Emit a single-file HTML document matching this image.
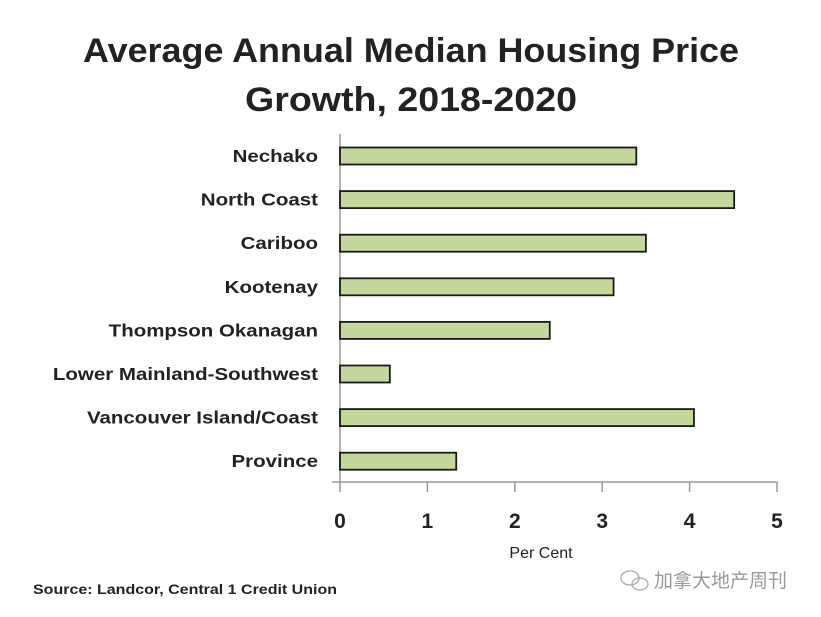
<!DOCTYPE html>
<html><head><meta charset="utf-8"><style>
body{margin:0;background:#fff;width:821px;height:617px;overflow:hidden;font-family:"Liberation Sans","Noto Sans CJK SC",sans-serif}
</style></head><body>
<svg width="821" height="617" style="position:absolute;left:0;top:0">
<text x="411" y="62" text-anchor="middle" font-size="34" font-weight="bold" fill="#222" textLength="656" lengthAdjust="spacingAndGlyphs">Average Annual Median Housing Price</text>
<text x="411" y="111" text-anchor="middle" font-size="34" font-weight="bold" fill="#222" textLength="332" lengthAdjust="spacingAndGlyphs">Growth, 2018-2020</text>
<g id="plot"></g>
<text x="541" y="558" text-anchor="middle" font-size="16" fill="#222">Per Cent</text>
<text x="33" y="594" font-size="14" font-weight="bold" fill="#222" textLength="304" lengthAdjust="spacingAndGlyphs">Source:  Landcor, Central 1 Credit Union</text>
<g fill="none" stroke="#aaa" stroke-width="1.3">
<ellipse cx="630" cy="578" rx="9" ry="7"/><ellipse cx="640" cy="584" rx="8" ry="6"/>
</g>
<text x="654" y="587" font-size="19" fill="#999" font-family="'Noto Sans CJK SC',sans-serif">加拿大地产周刊</text>
</svg>
<script>
const categories=["Nechako","North Coast","Cariboo","Kootenay","Thompson Okanagan","Lower Mainland-Southwest","Vancouver Island/Coast","Province"];
const values=[3.39,4.51,3.5,3.13,2.4,0.57,4.05,1.33];
const ticks=[0,1,2,3,4,5];
const NS="http://www.w3.org/2000/svg";
const g=document.getElementById('plot');
const x0=340,x1=777,top0=134,step=43.6,axisY=482;
const xs=v=>x0+(v-0)/(5-0)*(x1-x0);
const ys=i=>156+i*step;
function mk(t,a){const e=document.createElementNS(NS,t);for(const k in a)e.setAttribute(k,a[k]);g.appendChild(e);return e;}
let ax=mk('line',{x1:x0,y1:top0,x2:x0,y2:axisY,stroke:'#999','stroke-width':1.5});


let bx=mk('line',{x1:x0-8,y1:axisY,x2:x1,y2:axisY,stroke:'#999','stroke-width':1.5});


ticks.forEach(t=>{
 let l=mk('line',{x1:xs(t),y1:axisY,x2:xs(t),y2:axisY+10,stroke:'#999','stroke-width':1.5});
 
 
 let tx=mk('text',{x:xs(t),y:528,'text-anchor':'middle','font-size':21,'font-weight':'bold',fill:'#222'});
 tx.textContent=t;
 
 
});
categories.forEach((c,i)=>{
 let r=mk('rect',{x:x0,y:ys(i)-8.5,width:xs(values[i])-x0,height:17,fill:'#c4d89e',stroke:'#1a1a1a','stroke-width':1.8});
 
 
 let t=mk('text',{x:318,y:ys(i)+6,'text-anchor':'end','font-size':17.5,'font-weight':'bold',fill:'#222'});
 t.textContent=c;
 
 
 const w=t.getComputedTextLength();
 t.setAttribute('textLength',(w*1.17).toFixed(1));
 t.setAttribute('lengthAdjust','spacingAndGlyphs');
});
</script>
</body></html>
